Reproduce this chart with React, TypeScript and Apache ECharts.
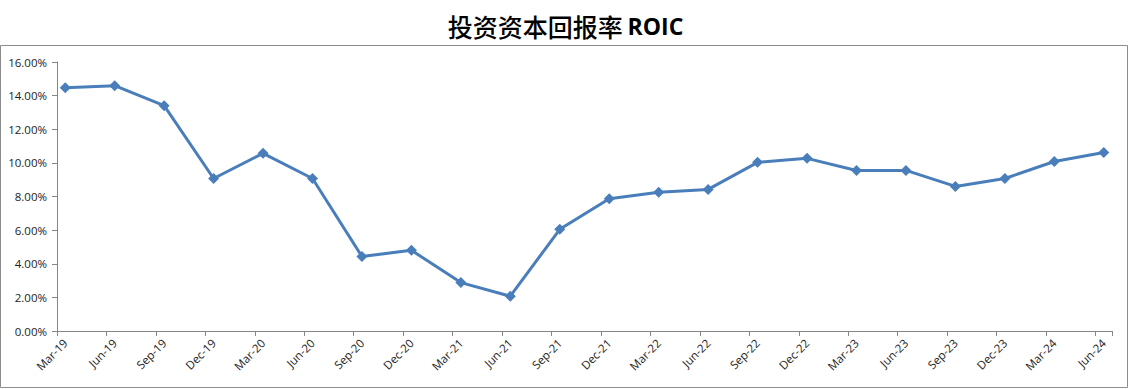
import React, { useEffect, useRef } from "react";
import * as echarts from "echarts";

const quarterLabels = [
  "Mar-19", "Jun-19", "Sep-19", "Dec-19",
  "Mar-20", "Jun-20", "Sep-20", "Dec-20",
  "Mar-21", "Jun-21", "Sep-21", "Dec-21",
  "Mar-22", "Jun-22", "Sep-22", "Dec-22",
  "Mar-23", "Jun-23", "Sep-23", "Dec-23",
  "Mar-24", "Jun-24",
];

const roicValues = [
  14.47, 14.59, 13.4, 9.07,
  10.57, 9.07, 4.43, 4.8,
  2.88, 2.07, 6.05, 7.87,
  8.25, 8.42, 10.03, 10.27,
  9.55, 9.55, 8.6, 9.07,
  10.08, 10.62,
];

const yTicks = { min: 0, max: 16, interval: 2 };
const titleMain = "投资资本回报率";
const titleSuffix = "ROIC";

// Monthly date axis: each quarter label starts a 3-month span; the last span holds one month.
const monthsPerQuarter = 3;

export default function App() {
  const ref = useRef<HTMLDivElement>(null);

  useEffect(() => {
    document.body.style.margin = "0";
    if (!ref.current) return;
    const chart = echarts.init(ref.current, undefined, { renderer: "svg" });

    const categories: string[] = [];
    const values: (number | null)[] = [];
    quarterLabels.forEach((lab, i) => {
      const span = i === quarterLabels.length - 1 ? 1 : monthsPerQuarter;
      for (let k = 0; k < span; k++) {
        categories.push(k === 0 ? lab : lab + "·" + k);
        values.push(k === 0 ? roicValues[i] : null);
      }
    });

    const axisColor = "#868686";
    const font = "'Open Sans', 'Liberation Sans', sans-serif";

    chart.setOption({
      animation: false,
      title: {
        text: "{a|" + titleMain + "} {b|" + titleSuffix + "}",
        left: "center",
        top: 8,
        textStyle: {
          rich: {
            a: {
              fontFamily: "'Noto Sans CJK SC'",
              fontSize: 25,
              color: "#000",
              fontWeight: 500,
            },
            b: {
              fontFamily: "'Open Sans', 'Liberation Sans', sans-serif",
              fontSize: 23,
              fontWeight: "bold",
              color: "#000",
            },
          },
        },
      },
      graphic: [
        {
          type: "rect",
          shape: { x: 0.5, y: 45.5, width: 1127, height: 342 },
          style: { fill: "none", stroke: "#8c8c8c", lineWidth: 1 },
          silent: true,
        },
      ],
      grid: { left: 57, right: 19, top: 62, bottom: 58, containLabel: false },
      xAxis: {
        type: "category",
        data: categories,
        boundaryGap: true,
        axisLine: { show: true, lineStyle: { color: axisColor, width: 1 } },
        axisTick: {
          show: true,
          interval: (index: number) => index % monthsPerQuarter === 0,
          length: 5,
          lineStyle: { color: axisColor },
        },
        axisLabel: {
          interval: (index: number) => index % monthsPerQuarter === 0,
          rotate: 45,
          margin: 10,
          fontSize: 11.5,
          fontFamily: font,
          color: "#222",
        },
        splitLine: { show: false },
      },
      yAxis: {
        type: "value",
        min: yTicks.min,
        max: yTicks.max,
        interval: yTicks.interval,
        axisLine: { show: true, lineStyle: { color: axisColor, width: 1 } },
        axisTick: { show: true, length: 5, lineStyle: { color: axisColor } },
        axisLabel: {
          formatter: (v: number) => v.toFixed(2) + "%",
          fontSize: 11.5,
          fontFamily: font,
          color: "#222",
          margin: 10,
        },
        splitLine: { show: false },
      },
      series: [
        {
          type: "line",
          data: values,
          connectNulls: true,
          symbol: "diamond",
          symbolSize: 11,
          showAllSymbol: true,
          lineStyle: { color: "#4a7ebb", width: 3 },
          itemStyle: { color: "#4a7ebb" },
        },
      ],
    });

    return () => chart.dispose();
  }, []);

  return <div ref={ref} style={{ width: 1131, height: 389 }} />;
}
